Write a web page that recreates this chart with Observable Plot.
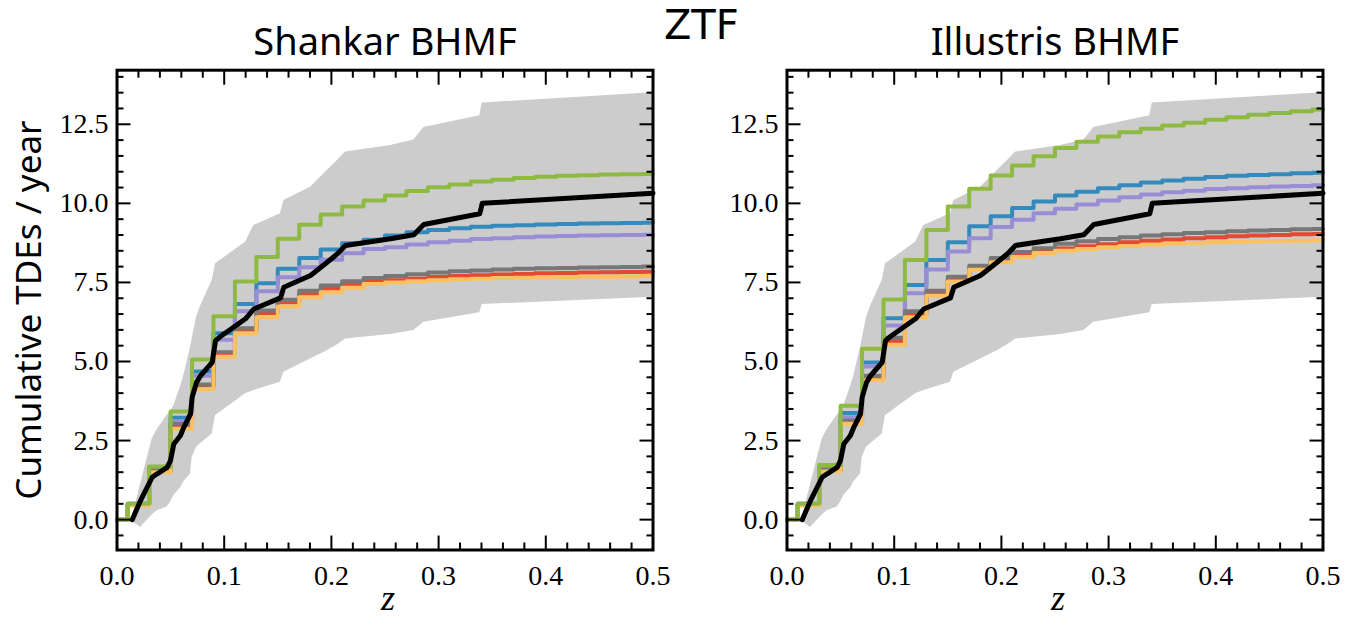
<!DOCTYPE html>
<html><head><meta charset="utf-8">
<script src="https://cdn.jsdelivr.net/npm/d3@7"></script>
<script src="https://cdn.jsdelivr.net/npm/@observablehq/plot@0.6"></script>
<style>
body{margin:0;background:#fff;}
#wrap{position:relative;width:1364px;height:631px;overflow:hidden;background:#fff;}
#wrap svg{position:absolute;top:0;overflow:visible;}
</style></head><body><div id="wrap"></div>
<script>
// model redshift grid (bin centres)
const zGrid = [0, 0.02, 0.04, 0.06, 0.08, 0.10, 0.12, 0.14, 0.16, 0.18, 0.20, 0.22, 0.24, 0.26, 0.28, 0.30, 0.32, 0.34, 0.36, 0.38, 0.40, 0.42, 0.44, 0.46, 0.48, 0.50];

// Shankar BHMF model curves
const shankarRed    = [0, 0.47, 1.53, 2.95, 4.20, 5.22, 5.98, 6.53, 6.87, 7.14, 7.30, 7.44, 7.52, 7.57, 7.62, 7.67, 7.70, 7.73, 7.75, 7.77, 7.79, 7.80, 7.81, 7.82, 7.83, 7.84];
const shankarBlue   = [0, 0.50, 1.62, 3.22, 4.68, 5.89, 6.82, 7.47, 7.93, 8.27, 8.54, 8.74, 8.85, 8.98, 9.09, 9.16, 9.21, 9.26, 9.29, 9.31, 9.33, 9.35, 9.36, 9.37, 9.38, 9.39];
const shankarPurple = [0, 0.50, 1.60, 3.11, 4.55, 5.69, 6.59, 7.22, 7.66, 7.98, 8.22, 8.42, 8.56, 8.61, 8.70, 8.77, 8.82, 8.87, 8.90, 8.93, 8.95, 8.97, 8.98, 8.99, 9.00, 9.01];
const shankarGrey   = [0, 0.48, 1.55, 3.02, 4.27, 5.29, 6.05, 6.61, 6.95, 7.24, 7.40, 7.54, 7.64, 7.70, 7.76, 7.81, 7.85, 7.88, 7.91, 7.93, 7.95, 7.96, 7.97, 7.98, 7.99, 8.00];
const shankarYellow = [0, 0.45, 1.50, 2.87, 4.13, 5.15, 5.89, 6.40, 6.74, 7.03, 7.19, 7.33, 7.45, 7.50, 7.54, 7.57, 7.60, 7.62, 7.64, 7.65, 7.66, 7.67, 7.68, 7.68, 7.69, 7.70];
const shankarGreen  = [0, 0.50, 1.68, 3.42, 5.06, 6.43, 7.53, 8.30, 8.88, 9.32, 9.65, 9.90, 10.09, 10.25, 10.39, 10.51, 10.60, 10.69, 10.75, 10.80, 10.84, 10.87, 10.89, 10.91, 10.92, 10.93];

// Illustris BHMF model curves
const illustrisRed    = [0, 0.47, 1.55, 3.08, 4.50, 5.65, 6.50, 7.15, 7.60, 7.95, 8.17, 8.35, 8.48, 8.57, 8.64, 8.71, 8.77, 8.82, 8.86, 8.90, 8.93, 8.96, 8.98, 9.00, 9.02, 9.03];
const illustrisBlue   = [0, 0.50, 1.65, 3.37, 4.97, 6.37, 7.42, 8.21, 8.77, 9.28, 9.59, 9.85, 10.06, 10.25, 10.37, 10.48, 10.57, 10.66, 10.72, 10.78, 10.83, 10.87, 10.90, 10.92, 10.95, 10.97];
const illustrisPurple = [0, 0.50, 1.62, 3.24, 4.84, 6.14, 7.16, 7.91, 8.48, 8.90, 9.25, 9.48, 9.69, 9.83, 9.96, 10.09, 10.19, 10.28, 10.35, 10.40, 10.45, 10.48, 10.51, 10.53, 10.55, 10.57];
const illustrisGrey   = [0, 0.48, 1.58, 3.13, 4.55, 5.75, 6.59, 7.24, 7.68, 8.03, 8.27, 8.46, 8.58, 8.72, 8.80, 8.87, 8.93, 8.98, 9.02, 9.06, 9.09, 9.12, 9.14, 9.16, 9.18, 9.19];
const illustrisYellow = [0, 0.45, 1.52, 3.03, 4.41, 5.53, 6.40, 7.08, 7.53, 7.90, 8.14, 8.30, 8.43, 8.50, 8.56, 8.61, 8.65, 8.69, 8.72, 8.75, 8.77, 8.79, 8.80, 8.81, 8.82, 8.83];
const illustrisGreen  = [0, 0.50, 1.73, 3.60, 5.40, 6.96, 8.21, 9.16, 9.90, 10.46, 10.88, 11.20, 11.49, 11.75, 11.95, 12.11, 12.25, 12.36, 12.46, 12.55, 12.64, 12.72, 12.80, 12.86, 12.91, 12.97];

// observed cumulative rate with uncertainty band
const obsZ  = [0.0142, 0.0219, 0.0328, 0.0375, 0.0468, 0.0499, 0.0530, 0.0592, 0.0623, 0.0686, 0.0701, 0.0742, 0.0779, 0.0888, 0.0919, 0.0965, 0.1199, 0.1276, 0.1525, 0.1556, 0.1805, 0.1961, 0.2054, 0.2132, 0.2551, 0.2769, 0.2862, 0.3384, 0.3407, 0.5000];
const obsN  = [0.00, 0.60, 1.34, 1.45, 1.65, 1.87, 2.39, 2.66, 2.92, 3.34, 3.87, 4.34, 4.55, 4.97, 5.66, 5.79, 6.35, 6.66, 7.01, 7.35, 7.72, 8.14, 8.40, 8.67, 8.88, 9.01, 9.33, 9.67, 10.00, 10.32];
const obsLo = [-0.05, -0.25, 0.15, 0.28, 0.40, 0.55, 0.76, 1.00, 1.20, 1.44, 1.97, 2.29, 2.40, 2.71, 3.29, 3.40, 3.98, 4.08, 4.34, 4.66, 5.08, 5.34, 5.52, 5.71, 5.85, 5.98, 6.24, 6.54, 6.80, 7.03];
const obsHi = [0.05, 1.10, 2.55, 2.85, 3.30, 3.40, 3.60, 4.20, 4.55, 5.45, 5.70, 6.40, 6.75, 7.56, 8.09, 8.20, 8.77, 9.30, 9.67, 10.09, 10.51, 11.04, 11.35, 11.62, 11.83, 12.00, 12.40, 12.77, 13.17, 13.50];

const seriesColors = ["#E24A33", "#348ABD", "#988ED5", "#777777", "#FBC15E", "#8EBA42"];
const xMajor = [0, 0.1, 0.2, 0.3, 0.4, 0.5];
const xMinor = [0.02,0.04,0.06,0.08,0.12,0.14,0.16,0.18,0.22,0.24,0.26,0.28,0.32,0.34,0.36,0.38,0.42,0.44,0.46,0.48];
const yMajor = [0, 2.5, 5, 7.5, 10, 12.5];
const yMinor = [-0.5,0.5,1,1.5,2,3,3.5,4,4.5,5.5,6,6.5,7,8,8.5,9,9.5,10.5,11,11.5,12,13,13.5,14];

const serif = "'Liberation Serif', 'DejaVu Serif', serif";
const sans = "'Noto Sans', 'DejaVu Sans', sans-serif";

function panel(title, curves, left, withYLabel, withSuptitle) {
  const band = obsZ.map((z, i) => ({z, lo: obsLo[i], hi: obsHi[i]}));
  const obs = obsZ.map((z, i) => ({z, n: obsN[i]}));
  const MAJ = 14, MIN = 7, TW = 2;
  const marks = [
    Plot.areaY(band, {x: "z", y1: "lo", y2: "hi", fill: "#cccccc"}),
    ...curves.map((vals, k) => Plot.line(zGrid.map((z, i) => ({z, n: vals[i]})),
      {x: "z", y: "n", stroke: seriesColors[k], strokeWidth: 4, curve: "step"})),
    Plot.line(obs, {x: "z", y: "n", stroke: "#000", strokeWidth: 5}),
    // inward ticks on all four sides
    Plot.axisX(xMajor, {anchor: "bottom", tickSize: MAJ, dy: -MAJ, text: null, label: null, strokeWidth: TW}),
    Plot.axisX(xMinor, {anchor: "bottom", tickSize: MIN, dy: -MIN, text: null, label: null, strokeWidth: TW}),
    Plot.axisX(xMajor, {anchor: "top", tickSize: MAJ, dy: MAJ, text: null, label: null, strokeWidth: TW}),
    Plot.axisX(xMinor, {anchor: "top", tickSize: MIN, dy: MIN, text: null, label: null, strokeWidth: TW}),
    Plot.axisY(yMajor, {anchor: "left", tickSize: MAJ, dx: MAJ, text: null, label: null, strokeWidth: TW}),
    Plot.axisY(yMinor, {anchor: "left", tickSize: MIN, dx: MIN, text: null, label: null, strokeWidth: TW}),
    Plot.axisY(yMajor, {anchor: "right", tickSize: MAJ, dx: -MAJ, text: null, label: null, strokeWidth: TW}),
    Plot.axisY(yMinor, {anchor: "right", tickSize: MIN, dx: -MIN, text: null, label: null, strokeWidth: TW}),
    // tick labels
    Plot.axisX(xMajor, {anchor: "bottom", tickSize: 0, tickPadding: 15.5, tickFormat: d => d.toFixed(1),
      label: null, fontSize: 28, fontFamily: serif, fill: "#000"}),
    Plot.axisY(yMajor, {anchor: "left", tickSize: 0, tickPadding: 8.5, tickFormat: d => d.toFixed(1),
      label: null, fontSize: 28, fontFamily: serif, fill: "#000"}),
    // titles
    Plot.text([title], {frameAnchor: "top", dy: -26.9, lineAnchor: "middle", fontSize: 38, fontFamily: sans, fill: "#000"}),
    Plot.text(["z"], {frameAnchor: "bottom", dy: 48.3, dx: 3, lineAnchor: "middle", fontSize: 36, fontFamily: serif, fontStyle: "italic", fill: "#000"}),
    Plot.frame({stroke: "#000", strokeWidth: 3})
  ];
  if (withYLabel) {
    marks.push(Plot.text(["Cumulative TDEs / year"], {frameAnchor: "left", dx: -87.7, rotate: -90, lineAnchor: "middle",
      textAnchor: "middle", fontSize: 35, fontFamily: sans, fill: "#000"}));
  }
  if (withSuptitle) {
    marks.push(Plot.text(["ZTF"], {frameAnchor: "top-left", dx: -85.7, dy: -44, lineAnchor: "middle", textAnchor: "middle",
      fontSize: 40, fontFamily: "'DejaVu Sans', sans-serif", fill: "#000"}));
  }
  const svg = Plot.plot({
    width: 682, height: 631,
    marginLeft: 116.5, marginRight: 29.5, marginTop: 69.7, marginBottom: 81.5,
    x: {domain: [0, 0.5]},
    y: {domain: [-0.96, 14.21]},
    style: {background: "transparent", overflow: "visible"},
    marks
  });
  svg.style.left = left + "px";
  document.getElementById("wrap").appendChild(svg);
}

panel("Shankar BHMF", [shankarRed, shankarBlue, shankarPurple, shankarGrey, shankarYellow, shankarGreen], 0, true, false);
panel("Illustris BHMF", [illustrisRed, illustrisBlue, illustrisPurple, illustrisGrey, illustrisYellow, illustrisGreen], 670.2, false, true);
</script></body></html>
